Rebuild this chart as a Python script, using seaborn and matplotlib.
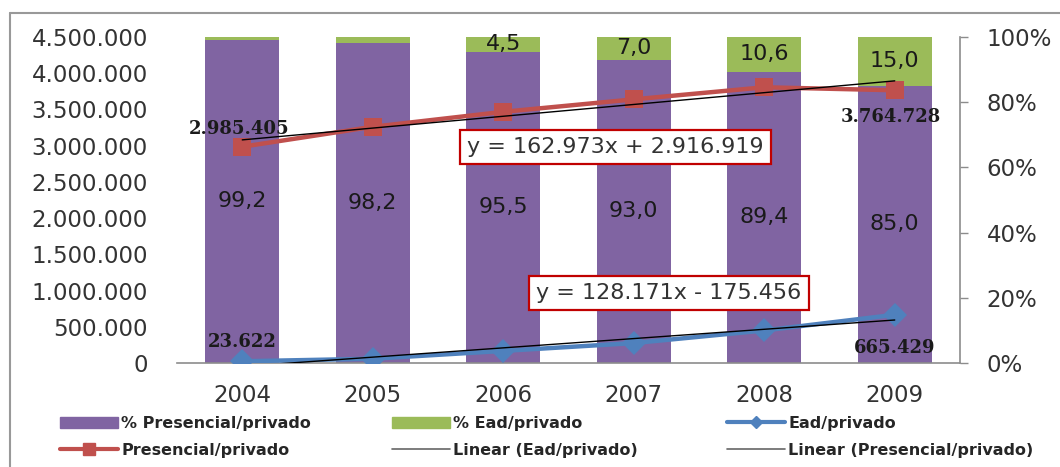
import numpy as np
import pandas as pd
import matplotlib
matplotlib.use("Agg")
import matplotlib.pyplot as plt
from matplotlib.lines import Line2D
from matplotlib.patches import Patch
import seaborn as sns

# ---- data -------------------------------------------------------------
years = ["2004", "2005", "2006", "2007", "2008", "2009"]
pct_presencial = [99.2, 98.2, 95.5, 93.0, 89.4, 85.0]
pct_ead = [0.8, 1.8, 4.5, 7.0, 10.6, 15.0]
presencial_privado = [2985405, 3260967, 3467342, 3639413, 3806091, 3764728]
ead_privado = [23622, 58800, 167000, 275000, 449000, 665429]
trend_presencial = (162973, 2916919)   # slope, intercept (x = 1..n)
trend_ead = (128171, -175456)
left_ticks = [0, 500000, 1000000, 1500000, 2000000, 2500000,
              3000000, 3500000, 4000000, 4500000]
right_ticks = [0, 20, 40, 60, 80, 100]

# ---- colours ----------------------------------------------------------
PURPLE = "#8064A2"
GREEN = "#9BBB59"
RED = "#C0504D"
BLUE = "#4F81BD"
AXIS_GRAY = "#8C8C8C"
TEXT = "#333333"
FS = 16.5


def thousands(v):
    return f"{v:,.0f}".replace(",", ".")


def decimal_comma(v):
    return f"{v:.1f}".replace(".", ",")


sns.set_style("white")
plt.rcParams["font.family"] = ["DejaVu Sans"]

fig = plt.figure(figsize=(10.6, 4.67), dpi=100)
ax = fig.add_axes([177 / 1060, 1 - 363 / 467, (960 - 177) / 1060, (363 - 37) / 467])
ax2 = ax.twinx()

df = pd.DataFrame({"ano": years, "pres": pct_presencial, "ead": pct_ead})
df["total"] = df["pres"] + df["ead"]

# stacked percentage bars on the right axis
sns.barplot(data=df, x="ano", y="total", color=GREEN, width=0.57,
            saturation=1, linewidth=0, ax=ax2)
sns.barplot(data=df, x="ano", y="pres", color=PURPLE, width=0.57,
            saturation=1, linewidth=0, ax=ax2)
ax2.set_ylim(0, 100)
ax2.set_xlim(-0.5, 5.5)

for i, (p, e) in enumerate(zip(pct_presencial, pct_ead)):
    ax2.text(i, p / 2, decimal_comma(p), ha="center", va="center",
             fontsize=16, color="#1a1a1a")
    if e >= 3:
        ax2.text(i, p + e / 2, decimal_comma(e), ha="center", va="center",
                 fontsize=16, color="#1a1a1a")

# absolute enrolment lines on the left axis
xpos = np.arange(len(years))
ax.set_zorder(ax2.get_zorder() + 1)
ax.patch.set_visible(False)

ex = np.arange(1, len(years) + 1)
sns.lineplot(x=xpos, y=trend_presencial[0] * ex + trend_presencial[1],
             color="black", lw=1.0, ax=ax, zorder=4)
sns.lineplot(x=xpos, y=trend_ead[0] * ex + trend_ead[1],
             color="black", lw=1.0, ax=ax, zorder=4)
sns.lineplot(x=xpos, y=presencial_privado, color=RED, lw=3.2, marker="s",
             markersize=13, markeredgewidth=0, ax=ax, zorder=3)
sns.lineplot(x=xpos, y=ead_privado, color=BLUE, lw=3.2, marker="D",
             markersize=12, markeredgewidth=0, ax=ax, zorder=3)

ax.set_xlim(-0.5, 5.5)
ax.set_ylim(0, 4500000)

serif = dict(family="DejaVu Serif", fontsize=13, fontweight="bold",
             color="#1a1a1a", ha="center")
ax.annotate(thousands(presencial_privado[0]), (0, presencial_privado[0]),
            xytext=(-2, 13), textcoords="offset points", va="center", **serif)
ax.annotate(thousands(presencial_privado[-1]), (5, presencial_privado[-1]),
            xytext=(-3, -19), textcoords="offset points", va="center", **serif)
ax.annotate(thousands(ead_privado[0]), (0, ead_privado[0]),
            xytext=(0, 14), textcoords="offset points", va="center", **serif)
ax.annotate(thousands(ead_privado[-1]), (5, ead_privado[-1]),
            xytext=(0, -24), textcoords="offset points", va="center", **serif)

# trend equations
box = dict(boxstyle="square,pad=0.32", fc="white", ec="#C00000", lw=1.6)
eq1 = f"y = {thousands(trend_presencial[0])}x + {thousands(trend_presencial[1])}"
eq2 = f"y = {thousands(trend_ead[0])}x - {thousands(abs(trend_ead[1]))}"
ax.text(2.86, 2980000, eq1, ha="center", va="center", fontsize=16,
        color=TEXT, bbox=box, zorder=6)
ax.text(3.27, 965000, eq2, ha="center", va="center", fontsize=16,
        color=TEXT, bbox=box, zorder=6)

# axes styling
ax.set_xticks(xpos, labels=years)
ax.set_yticks(left_ticks, labels=[thousands(v) for v in left_ticks])
ax.tick_params(axis="x", length=0, pad=15, labelsize=FS, labelcolor=TEXT)
ax.tick_params(axis="y", length=0, pad=21, labelsize=FS, labelcolor=TEXT)
ax.set_xlabel("")
ax.set_ylabel("")
for s in ("top", "left", "right"):
    ax.spines[s].set_visible(False)
ax.spines["bottom"].set_color(AXIS_GRAY)
ax.spines["bottom"].set_linewidth(1.2)

ax2.set_yticks(right_ticks, labels=[f"{v}%" for v in right_ticks])
ax2.tick_params(axis="y", length=6, width=1.0, color=AXIS_GRAY, pad=13,
                labelsize=FS, labelcolor=TEXT, direction="out")
ax2.set_ylabel("")
for s in ("top", "left", "bottom"):
    ax2.spines[s].set_visible(False)
ax2.spines["right"].set_color(AXIS_GRAY)
ax2.spines["right"].set_linewidth(1.2)

# legend: three columns of two rows each
columns = [
    (60, [Patch(color=PURPLE, label="% Presencial/privado"),
          Line2D([], [], color=RED, lw=3, marker="s", markersize=8,
                 label="Presencial/privado")]),
    (392, [Patch(color=GREEN, label="% Ead/privado"),
           Line2D([], [], color="#666666", lw=1.2, label="Linear (Ead/privado)")]),
    (727, [Line2D([], [], color=BLUE, lw=3, marker="D", markersize=6,
                  label="Ead/privado"),
           Line2D([], [], color="#666666", lw=1.2,
                  label="Linear (Presencial/privado)")]),
]
for x0, hs in columns:
    fig.legend(handles=hs, ncol=1, loc="upper left",
               bbox_to_anchor=(x0 / 1060, 1 - 416 / 467), frameon=False,
               borderpad=0, borderaxespad=0, handlelength=3.6,
               handletextpad=0.25, labelspacing=0.74, numpoints=1,
               prop=dict(size=11.5, weight="bold"))

# chart frame
fig.add_artist(Line2D([10 / 1060, 1], [1 - 13 / 467, 1 - 13 / 467],
                      transform=fig.transFigure, color="#999999", lw=1.5))
fig.add_artist(Line2D([10 / 1060, 10 / 1060], [0, 1 - 13 / 467],
                      transform=fig.transFigure, color="#999999", lw=1.5))

fig.savefig("out.png", dpi=100, facecolor="white")
